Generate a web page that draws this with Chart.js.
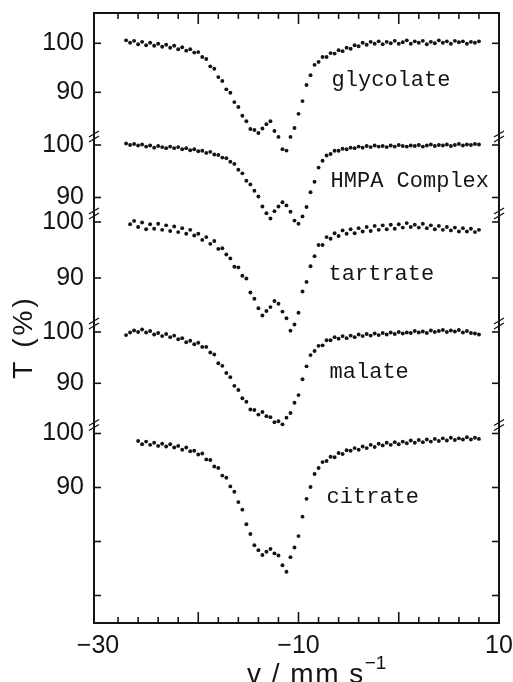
<!DOCTYPE html>
<html>
<head>
<meta charset="utf-8">
<script src="https://cdn.jsdelivr.net/npm/chart.js@4/dist/chart.umd.min.js"></script>
<style>
  html, body { margin: 0; padding: 0; background: #fff; }
  #c { display: block; }
</style>
</head>
<body>
<canvas id="c" width="513" height="682"></canvas>
<script>
// Velocity channels (mm/s): first channel and spacing
const vStart = -27.2;
const vStep = 0.4;

// Transmission T (%) per channel for each compound
const glycolate = [
  100.6, 100.1, 100.5, 99.8, 100.3, 99.6, 100.1, 99.5, 99.9, 99.3,
  99.7, 99.1, 99.5, 98.8, 99.2, 98.5, 98.8, 98.1, 98.2, 97.2,
  96.8, 95.3, 94.8, 93.1, 92.3, 90.6, 89.9, 88.0, 87.0, 85.2,
  84.1, 82.5, 82.3, 81.7, 82.6, 83.5, 84.1, 82.1, 80.9, 78.4,
  78.1, 80.9, 82.7, 85.6, 88.2, 91.5, 93.5, 95.6, 96.2, 97.2,
  97.2, 98.0, 97.9, 98.6, 98.4, 99.1, 98.9, 99.6, 99.4, 100.1,
  99.7, 100.3, 99.9, 100.4, 99.8, 100.3, 100.0, 100.5, 99.9, 100.2,
  100.6, 99.9, 100.4, 100.1, 100.5, 99.8, 100.3, 100.0, 100.6, 100.1,
  100.4, 99.9, 100.5, 100.2, 100.4, 99.9, 100.3, 100.1, 100.4
];
const hmpaComplex = [
  100.3, 100.0, 100.2, 99.9, 100.1, 99.7, 99.9, 99.5, 99.8, 99.6,
  99.4, 99.7, 99.4, 99.6, 99.2, 99.4, 99.0, 99.2, 98.8, 98.9,
  98.5, 98.7, 98.2, 98.1, 97.6, 97.5, 96.8, 96.4, 95.3, 94.6,
  93.2, 92.5, 91.3, 90.2, 88.3, 87.0, 86.0, 87.4, 88.3, 89.1,
  88.5, 87.3, 85.6, 85.0, 86.4, 88.2, 91.0, 93.0, 95.7, 97.0,
  98.0, 98.3, 98.9, 98.9, 99.3, 99.2, 99.5, 99.4, 99.7, 99.5,
  99.8, 99.6, 99.9, 99.7, 99.8, 99.6, 99.9, 99.7, 100.0, 99.8,
  99.7, 99.9, 99.8, 100.0, 99.7, 99.9, 100.1, 99.8, 100.0, 99.9,
  100.1, 99.8, 100.0, 100.2, 99.9, 100.1, 100.0, 100.2, 100.1
];
const tartrate = [
  null, 99.6, 100.2, 99.1, 99.9, 98.7, 99.6, 98.8, 99.7, 98.6,
  99.4, 98.4, 99.2, 98.2, 98.9, 97.9, 98.6, 97.6, 97.9, 96.8,
  97.3, 96.1, 96.6, 95.2, 95.3, 94.2, 93.5, 92.0, 91.9, 90.4,
  89.9, 87.4, 86.3, 84.6, 83.3, 84.1, 84.8, 85.9, 85.4, 84.0,
  82.8, 80.6, 81.7, 83.8, 87.6, 89.3, 92.1, 93.9, 95.9, 95.9,
  97.3, 97.0, 98.0, 97.5, 98.5, 97.9, 98.7, 98.0, 98.9, 98.3,
  99.1, 98.4, 99.3, 98.6, 99.4, 98.7, 99.5, 98.8, 99.6, 99.0,
  99.8, 99.1, 99.5, 99.0, 99.7, 98.9, 99.4, 98.7, 99.3, 98.6,
  99.1, 98.5, 99.0, 98.3, 98.9, 98.3, 98.8, 98.2, 98.6
];
const malate = [
  99.4, 99.9, 100.3, 100.0, 100.5, 99.9, 100.2, 99.5, 99.8, 99.2,
  99.6, 99.0, 99.3, 98.6, 98.8, 98.0, 98.3, 97.6, 97.9, 97.1,
  97.1, 96.0, 95.6, 93.9, 93.4, 92.0, 91.2, 89.5, 88.7, 87.1,
  86.4, 84.9, 84.8, 83.9, 84.4, 83.6, 83.4, 82.4, 82.6, 82.0,
  83.3, 84.2, 86.2, 87.7, 90.8, 93.3, 95.5, 96.3, 97.3, 97.4,
  98.4, 98.4, 99.0, 98.7, 99.2, 98.8, 99.3, 99.0, 99.5, 99.2,
  99.6, 99.3, 99.7, 99.4, 99.8, 99.5, 99.9, 99.6, 100.0, 99.7,
  99.9, 99.8, 100.2, 99.9, 100.1, 99.8, 100.3, 100.0, 100.2, 100.4,
  100.0, 100.3, 100.1, 100.4, 99.9, 100.2, 99.8, 99.7, 99.5
];
const citrate = [
  null, null, null, 98.6, 98.0, 98.5, 97.9, 98.3, 97.7, 98.1,
  97.6, 98.0, 97.4, 97.7, 97.0, 97.4, 96.7, 96.8, 96.1, 96.3,
  95.2, 95.1, 93.9, 93.6, 92.2, 91.8, 90.2, 89.2, 87.3, 85.9,
  83.2, 81.4, 79.3, 78.4, 77.5, 78.1, 78.6, 77.8, 77.4, 75.6,
  74.4, 77.1, 78.9, 81.0, 84.6, 87.9, 90.1, 92.5, 93.6, 94.7,
  94.9, 95.7, 95.6, 96.4, 96.2, 96.9, 96.8, 97.3, 97.0, 97.6,
  97.3, 97.9, 97.5, 98.1, 97.8, 98.3, 97.9, 98.4, 98.0, 98.5,
  98.2, 98.7, 98.3, 98.8, 98.4, 98.9, 98.5, 99.0, 98.6, 99.1,
  98.7, 99.2, 98.8, 99.1, 98.9, 99.3, 98.9, 99.2, 99.0
];

// Axis tick labels
const xTickLabels = [-30, -10, 10];
const yTickLabels = [100, 90];

const INK = '#141414';

// Stacked panels: where T = 100 % sits on the shared stacking axis, and axis units per %
const panels = [
  { name: 'glycolate',    data: glycolate,   base: 579.7, gain: 4.9,  extraTicks: [],       brk: false, tag: { v: -6.7, t: 91.3 } },
  { name: 'HMPA Complex', data: hmpaComplex, base: 478.0, gain: 5.25, extraTicks: [],       brk: true,  tag: { v: -6.8, t: 92.0 } },
  { name: 'tartrate',     data: tartrate,    base: 401.0, gain: 5.6,  extraTicks: [],       brk: true,  tag: { v: -7.0, t: 89.6 } },
  { name: 'malate',       data: malate,      base: 291.0, gain: 5.13, extraTicks: [],       brk: true,  tag: { v: -6.9, t: 91.0 } },
  { name: 'citrate',      data: citrate,     base: 189.5, gain: 5.4,  extraTicks: [80, 70], brk: true,  tag: { v: -7.2, t: 87.1 } }
];
const stackPos = (p, t) => p.base + p.gain * (t - 100);

const velocity = glycolate.map((_, i) => +(vStart + i * vStep).toFixed(1));

// Tick list for the stacked T axis
const yTicks = [];
panels.forEach(p => {
  yTickLabels.forEach(t => yTicks.push({ value: stackPos(p, t), label: String(t) }));
  p.extraTicks.forEach(t => yTicks.push({ value: stackPos(p, t), label: '' }));
});
yTicks.sort((a, b) => a.value - b.value);

const datasets = panels.map(p => ({
  label: p.name,
  data: p.data.map((t, i) => (t === null ? null : { x: velocity[i], y: stackPos(p, t) })).filter(Boolean),
  showLine: false,
  pointRadius: 1.95,
  pointHoverRadius: 1.95,
  pointBorderWidth: 0,
  pointBackgroundColor: INK
}));

const fmtMinus = v => (v < 0 ? '\u2212' + Math.abs(v) : String(v));

// scales keep no extra edge padding, so the plot box is fixed by layout.padding
const noEdgePadding = s => { s.paddingTop = 0; s.paddingBottom = 0; s.paddingLeft = 0; s.paddingRight = 0; };

const inkPlugin = {
  id: 'ink',
  afterDraw(chart) {
    const { ctx, chartArea: a, scales: { x, y } } = chart;
    const seg = (x1, y1, x2, y2) => { ctx.beginPath(); ctx.moveTo(x1, y1); ctx.lineTo(x2, y2); ctx.stroke(); };
    ctx.save();
    ctx.strokeStyle = INK;
    ctx.fillStyle = INK;
    ctx.lineCap = 'butt';

    // frame
    ctx.lineWidth = 2;
    ctx.strokeRect(a.left, a.top, a.right - a.left, a.bottom - a.top);

    // velocity ticks, bottom and top, pointing inward
    ctx.lineWidth = 1.6;
    for (let v = -28; v < 10; v += 2) {
      const px = x.getPixelForValue(v);
      const len = v % 10 === 0 ? 11 : 6;
      seg(px, a.bottom, px, a.bottom - len);
      seg(px, a.top, px, a.top + len);
    }

    // transmission ticks, left and right, pointing inward
    yTicks.forEach(t => {
      const py = y.getPixelForValue(t.value);
      seg(a.left, py, a.left + 7, py);
      seg(a.right, py, a.right - 7, py);
    });

    // axis-break marks above each stacked 100 % tick
    ctx.lineWidth = 1.4;
    panels.filter(p => p.brk).forEach(p => {
      const py = y.getPixelForValue(stackPos(p, 100)) - 9;
      [a.left, a.right].forEach(ax => {
        seg(ax - 5, py + 1, ax + 5, py - 5);
        seg(ax - 5, py + 6, ax + 5, py);
      });
    });

    // compound names
    ctx.font = '22px "Liberation Mono", "DejaVu Sans Mono", monospace';
    ctx.textAlign = 'left';
    ctx.textBaseline = 'alphabetic';
    panels.forEach(p => {
      ctx.fillText(p.name, x.getPixelForValue(p.tag.v), y.getPixelForValue(stackPos(p, p.tag.t)));
    });

    // y-axis title
    ctx.save();
    ctx.translate(24, 337);
    ctx.rotate(-Math.PI / 2);
    ctx.font = '28px "Liberation Sans", Arial, sans-serif';
    ctx.letterSpacing = '3px';
    ctx.textAlign = 'center';
    ctx.textBaseline = 'middle';
    ctx.fillText('T (%)', 0, 0);
    ctx.restore();

    // x-axis title with superscript unit exponent
    ctx.font = '28px "Liberation Sans", Arial, sans-serif';
    ctx.letterSpacing = '1.5px';
    ctx.textAlign = 'left';
    ctx.textBaseline = 'alphabetic';
    const main = 'v / mm s';
    const w = ctx.measureText(main).width;
    ctx.fillText(main, 247, 683);
    ctx.font = '19px "Liberation Sans", Arial, sans-serif';
    ctx.letterSpacing = '0px';
    ctx.fillText('\u22121', 247 + w, 669);
    ctx.restore();
  }
};

new Chart(document.getElementById('c'), {
  type: 'scatter',
  data: { datasets },
  options: {
    responsive: false,
    animation: false,
    devicePixelRatio: 1,
    layout: { padding: { top: 13, right: 14, left: 0, bottom: 0 } },
    plugins: { legend: { display: false }, tooltip: { enabled: false } },
    scales: {
      x: {
        type: 'linear',
        min: -30.4,
        max: 10,
        grid: { display: false, drawTicks: false },
        border: { display: false },
        ticks: {
          color: INK,
          font: { family: '"Liberation Sans", Arial, sans-serif', size: 25 },
          padding: 8,
          maxRotation: 0,
          autoSkip: false,
          callback: v => (xTickLabels.includes(v) ? fmtMinus(v) : '')
        },
        afterBuildTicks: s => { s.ticks = xTickLabels.map(v => ({ value: v })); },
        afterFit: s => { s.height = 59; noEdgePadding(s); }
      },
      y: {
        type: 'linear',
        min: 0,
        max: 610,
        grid: { display: false, drawTicks: false },
        border: { display: false },
        ticks: {
          color: INK,
          font: { family: '"Liberation Sans", Arial, sans-serif', size: 25 },
          padding: 10,
          autoSkip: false,
          callback: (v, i) => (yTicks[i] ? yTicks[i].label : '')
        },
        afterBuildTicks: s => { s.ticks = yTicks.map(t => ({ value: t.value })); },
        afterFit: s => { s.width = 94; noEdgePadding(s); }
      }
    }
  },
  plugins: [inkPlugin]
});
</script>
</body>
</html>
